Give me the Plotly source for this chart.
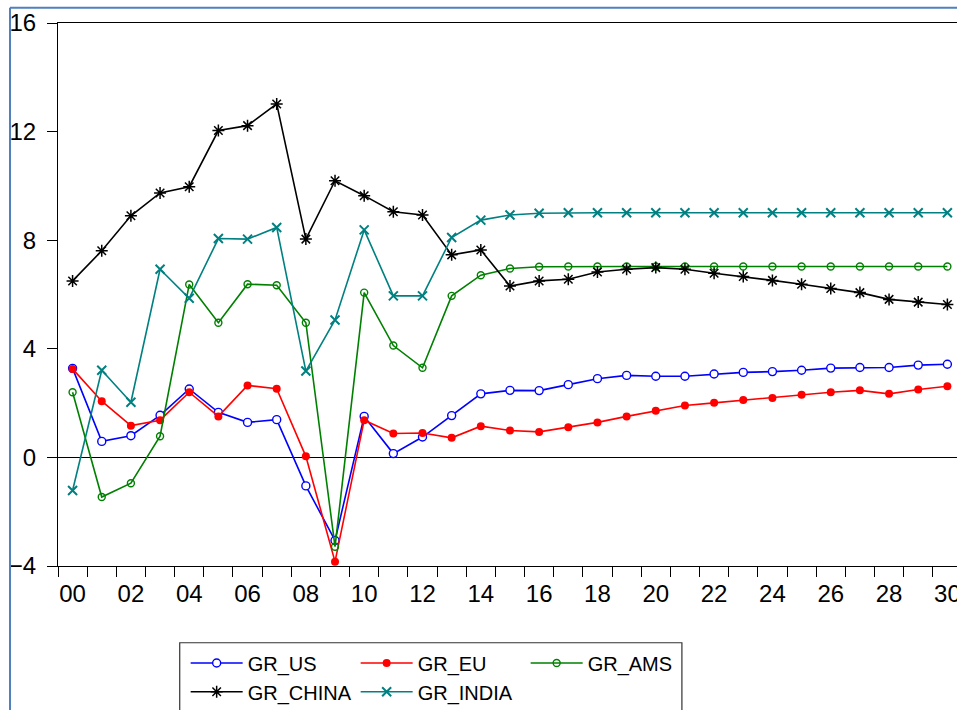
import plotly.graph_objects as go

years = list(range(2000, 2031))
year_idx = [y - 2000 for y in years]

gr_us = [3.28, 0.59, 0.80, 1.55, 2.52, 1.66, 1.29, 1.39, -1.05, -3.06,
         1.51, 0.14, 0.75, 1.54, 2.34, 2.47, 2.46, 2.68, 2.90, 3.02,
         2.99, 2.99, 3.07, 3.13, 3.16, 3.21, 3.29, 3.31, 3.31, 3.40, 3.43]
gr_eu = [3.26, 2.07, 1.17, 1.37, 2.40, 1.51, 2.65, 2.53, 0.04, -3.84,
         1.37, 0.88, 0.90, 0.72, 1.15, 0.99, 0.94, 1.11, 1.29, 1.51,
         1.72, 1.91, 2.01, 2.11, 2.19, 2.31, 2.40, 2.47, 2.34, 2.50, 2.62]
gr_ams = [2.40, -1.46, -0.95, 0.78, 6.37, 4.96, 6.38, 6.34, 4.96, -3.29,
          6.07, 4.12, 3.30, 5.95, 6.71, 6.96, 7.02, 7.03, 7.03, 7.03,
          7.03, 7.03, 7.03, 7.03, 7.03, 7.03, 7.03, 7.03, 7.03, 7.03, 7.03]
gr_china = [6.50, 7.61, 8.90, 9.74, 9.97, 12.04, 12.22, 13.02, 8.04, 10.19,
            9.64, 9.05, 8.93, 7.46, 7.64, 6.31, 6.50, 6.56, 6.83, 6.93,
            6.99, 6.93, 6.78, 6.66, 6.52, 6.38, 6.22, 6.07, 5.82, 5.72, 5.63]
gr_india = [-1.22, 3.21, 2.03, 6.93, 5.86, 8.06, 8.04, 8.47, 3.18, 5.06,
            8.38, 5.95, 5.95, 8.10, 8.74, 8.93, 8.99, 9.01, 9.01, 9.01,
            9.01, 9.01, 9.01, 9.01, 9.01, 9.01, 9.01, 9.01, 9.01, 9.01, 9.01]

x_tickvals = list(range(0, 31, 2))
x_ticktext = ["%02d" % (v % 100) for v in range(2000, 2031, 2)]
y_tickvals = [-4, 0, 4, 8, 12, 16]

fig = go.Figure()

fig.add_trace(go.Scatter(x=year_idx, y=gr_us, name="GR_US", mode="lines+markers",
                         line=dict(color="#0000FF", width=1.6),
                         marker=dict(symbol="circle", size=8, color="white",
                                     line=dict(color="#0000FF", width=1.4)),
                         legend="legend"))
fig.add_trace(go.Scatter(x=year_idx, y=gr_eu, name="GR_EU", mode="lines+markers",
                         line=dict(color="#FF0000", width=1.6),
                         marker=dict(symbol="circle", size=8, color="#FF0000"),
                         legend="legend"))
fig.add_trace(go.Scatter(x=year_idx, y=gr_ams, name="GR_AMS", mode="lines+markers",
                         line=dict(color="#008000", width=1.6),
                         marker=dict(symbol="circle-open", size=7, color="#008000",
                                     line=dict(width=1.4)),
                         legend="legend"))
fig.add_trace(go.Scatter(x=year_idx, y=gr_china, name="GR_CHINA", mode="lines+markers",
                         line=dict(color="#000000", width=1.6),
                         marker=dict(symbol="asterisk-open", size=10, color="#000000",
                                     line=dict(width=1.5)),
                         legend="legend2"))
fig.add_trace(go.Scatter(x=year_idx, y=gr_india, name="GR_INDIA", mode="lines+markers",
                         line=dict(color="#008080", width=1.6),
                         marker=dict(symbol="x-thin-open", size=9, color="#008080",
                                     line=dict(width=2)),
                         legend="legend2"))

legend_font = dict(family="Liberation Sans, Arial", size=20, color="black")
common_legend = dict(orientation="h", xanchor="left", yanchor="middle",
                     bgcolor="rgba(0,0,0,0)", borderwidth=0, font=legend_font,
                     itemwidth=52, entrywidth=103, entrywidthmode="pixels",
                     itemclick=False, itemdoubleclick=False)

fig.update_layout(
    width=957, height=710,
    margin=dict(l=58, r=0, t=23, b=144, pad=0, autoexpand=False),
    paper_bgcolor="white", plot_bgcolor="white",
    font=dict(family="Liberation Sans, Arial", size=24, color="black"),
    showlegend=True,
    legend=dict(common_legend, x=0.142, y=-0.1786),
    legend2=dict(common_legend, x=0.142, y=-0.2315),
    xaxis=dict(range=[-0.5, 30.33], tickmode="array", tickvals=x_tickvals,
               ticktext=x_ticktext, ticks="", showgrid=False, zeroline=False,
               showline=True, linecolor="black", linewidth=1, mirror=True,
               ticklabelstandoff=6, automargin=False, ticklabeloverflow="allow",
               minor=dict(tick0=-0.5, dtick=1, ticks="outside", ticklen=10,
                          tickcolor="black", tickwidth=1, showgrid=False),
               tickfont=dict(size=24), fixedrange=True),
    yaxis=dict(range=[-4, 16], tickmode="array", tickvals=y_tickvals,
               ticks="outside", ticklen=10, tickcolor="black", tickwidth=1,
               showgrid=False, zeroline=True, zerolinecolor="black", zerolinewidth=1,
               showline=True, linecolor="black", linewidth=1, mirror=False,
               ticklabelstandoff=6, automargin=False, ticklabeloverflow="allow",
               tickfont=dict(size=24), fixedrange=True),
    shapes=[
        dict(type="rect", xref="paper", yref="paper", x0=0.1354, x1=0.694,
             y0=-0.1413, y1=-0.30, line=dict(color="#333333", width=1.2),
             fillcolor="rgba(0,0,0,0)"),
        dict(type="line", xref="paper", yref="paper", x0=-0.0534, x1=1.02,
             y0=1.0282, y1=1.0282, line=dict(color="#4F81BD", width=2)),
        dict(type="line", xref="paper", yref="paper", x0=-0.0534, x1=-0.0534,
             y0=1.0282, y1=-0.30, line=dict(color="#4F81BD", width=2)),
    ],
)

fig.write_html("out.html", config={"displayModeBar": False},
               post_script="document.body.style.margin='0';")
